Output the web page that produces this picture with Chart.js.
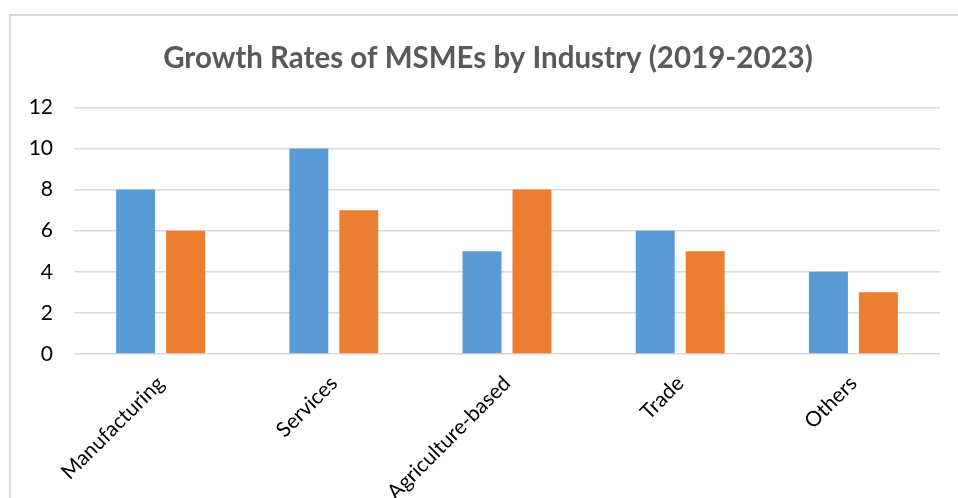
<!DOCTYPE html>
<html>
<head>
<meta charset="utf-8">
<script src="https://cdn.jsdelivr.net/npm/chart.js@4"></script>
<style>
  html, body { margin: 0; padding: 0; background: #fff; overflow: hidden; }
  #frame { position: absolute; left: 9px; top: 14px; width: 1000px; height: 600px; border: 2px solid #d9d9d9; box-sizing: border-box; }
  #wrap { position: absolute; left: 0; top: 0; width: 958px; height: 498px; }
</style>
</head>
<body>
<div id="frame"></div>
<div id="wrap"><canvas id="c"></canvas></div>
<script>
const categories = ["Manufacturing", "Services", "Agriculture-based", "Trade", "Others"];
const series1 = [8, 10, 5, 6, 4];
const series2 = [6, 7, 8, 5, 3];
const yTicks = [0, 2, 4, 6, 8, 10, 12];
const titleText = "Growth Rates of MSMEs by Industry (2019-2023)";

const fontFamily = "Lato, 'Open Sans', sans-serif";

new Chart(document.getElementById('c'), {
  type: 'bar',
  data: {
    labels: categories,
    datasets: [
      { label: 'Series 1', data: series1, backgroundColor: '#5B9BD5', borderWidth: 0 },
      { label: 'Series 2', data: series2, backgroundColor: '#ED7D31', borderWidth: 0 }
    ]
  },
  options: {
    responsive: true,
    maintainAspectRatio: false,
    animation: false,
    categoryPercentage: 0.577,
    barPercentage: 0.78,
    layout: { padding: { left: 18, right: 0, top: 0, bottom: 0 } },
    plugins: {
      legend: { display: false },
      tooltip: { enabled: false },
      title: {
        display: true,
        text: titleText,
        color: '#595959',
        font: { family: fontFamily, size: 29.5, weight: 'bold' },
        padding: { top: 41, bottom: 31 }
      }
    },
    scales: {
      x: {
        grid: { display: false },
        border: { display: false },
        ticks: {
          color: '#000',
          font: { family: fontFamily, size: 21 },
          minRotation: 45,
          maxRotation: 45,
          padding: 9
        },
        afterFit: (s) => { s.height = 144; }
      },
      y: {
        min: 0,
        max: 12,
        afterBuildTicks: (s) => { s.ticks = yTicks.map(v => ({ value: v })); },
        grid: { color: '#d9d9d9', lineWidth: 1.5, drawTicks: false },
        border: { display: false },
        ticks: {
          color: '#000',
          font: { family: fontFamily, size: 21 },
          padding: 21
        },
        afterFit: (s) => { s.width = 56; }
      },
      yRight: {
        position: 'right',
        min: 0,
        max: 12,
        grid: { display: false, drawTicks: false },
        border: { display: false },
        ticks: { display: false },
        afterFit: (s) => { s.width = 18; }
      }
    }
  }
});
</script>
</body>
</html>
